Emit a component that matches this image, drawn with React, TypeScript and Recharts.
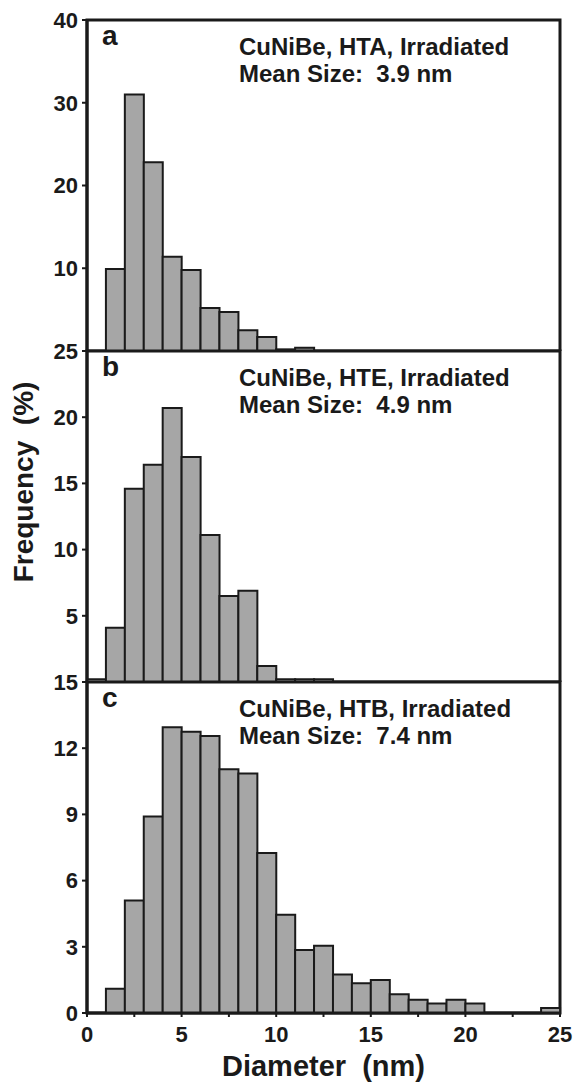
import React from "react";
import { BarChart, Bar, XAxis, YAxis, ReferenceArea } from "recharts";

const font = "'Liberation Sans', Arial, Helvetica, sans-serif";
const ink = "#1a1a1a";

// bin centres (1 nm bins from 0 to 25 nm)
const binCenters = [
  0.5, 1.5, 2.5, 3.5, 4.5, 5.5, 6.5, 7.5, 8.5, 9.5, 10.5, 11.5, 12.5,
  13.5, 14.5, 15.5, 16.5, 17.5, 18.5, 19.5, 20.5, 21.5, 22.5, 23.5, 24.5,
];

const freqHTA = [
  0, 9.9, 31.0, 22.8, 11.4, 9.8, 5.2, 4.7, 2.5, 1.7, 0.2, 0.4, 0,
  0, 0, 0, 0, 0, 0, 0, 0, 0, 0, 0, 0,
];
const freqHTE = [
  0.2, 4.1, 14.6, 16.4, 20.7, 17.0, 11.1, 6.5, 6.9, 1.2, 0.2, 0.2, 0.2,
  0, 0, 0, 0, 0, 0, 0, 0, 0, 0, 0, 0,
];
const freqHTB = [
  0, 1.1, 5.1, 8.9, 12.95, 12.75, 12.55, 11.05, 10.85, 7.25, 4.45, 2.85, 3.05,
  1.75, 1.35, 1.5, 0.85, 0.6, 0.43, 0.6, 0.43, 0, 0, 0, 0.23,
];

const ticksA = [10, 20, 30, 40];
const ticksB = [5, 10, 15, 20, 25];
const ticksC = [0, 3, 6, 9, 12, 15];
const xTicks = [0, 2.5, 5, 7.5, 10, 12.5, 15, 17.5, 20, 22.5, 25];

const titles = [
  { letter: "a", line1: "CuNiBe, HTA, Irradiated", line2: "Mean Size:  3.9 nm" },
  { letter: "b", line1: "CuNiBe, HTE, Irradiated", line2: "Mean Size:  4.9 nm" },
  { letter: "c", line1: "CuNiBe, HTB, Irradiated", line2: "Mean Size:  7.4 nm" },
];

const tickStyle = { fontSize: 22, fontWeight: "bold", fill: ink, fontFamily: font };

function Panel({ freq, yMax, yTicks, title, top, bottomAxis, yTitle }) {
  const data = binCenters.map((x, i) => ({ x, freq: freq[i] }));
  const height = bottomAxis ? 422 : 351;
  return (
    <div style={{ position: "absolute", left: 0, top, width: 573, height }}>
      <BarChart
        width={573}
        height={height}
        data={data}
        margin={{ top: 20, right: 13, left: 0, bottom: 0 }}
        barCategoryGap={0}
        barGap={0}
        style={{ fontFamily: font }}
      >
        {bottomAxis ? (
          <XAxis
            type="number"
            dataKey="x"
            domain={[0, 25]}
            ticks={xTicks}
            interval={0}
            tickFormatter={(v) => (v % 5 === 0 ? String(v) : "")}
            tick={tickStyle}
            tickSize={4}
            tickMargin={9}
            tickLine={{ stroke: ink, strokeWidth: 2 }}
            axisLine={{ stroke: ink, strokeWidth: 3 }}
            height={71}
            label={{
              content: () => (
                <text
                  x={323.5}
                  y={414}
                  textAnchor="middle"
                  style={{ whiteSpace: "pre" }}
                  fontSize={29}
                  fontWeight="bold"
                  fill={ink}
                  fontFamily={font}
                >
                  Diameter  (nm)
                </text>
              ),
            }}
          />
        ) : (
          <XAxis type="number" dataKey="x" domain={[0, 25]} hide />
        )}
        <YAxis
          type="number"
          domain={[0, yMax]}
          ticks={yTicks}
          interval={0}
          width={87}
          tick={tickStyle}
          tickSize={5}
          tickMargin={4}
          tickLine={{ stroke: ink, strokeWidth: 2 }}
          axisLine={{ stroke: ink, strokeWidth: 3 }}
          label={
            yTitle
              ? {
                  content: () => (
                    <text
                      x={33}
                      y={151}
                      transform="rotate(-90, 33, 151)"
                      textAnchor="middle"
                      style={{ whiteSpace: "pre" }}
                      fontSize={28}
                      fontWeight="bold"
                      fill={ink}
                      fontFamily={font}
                    >
                      Frequency  (%)
                    </text>
                  ),
                }
              : undefined
          }
        />
        <Bar
          dataKey="freq"
          fill="#a6a6a6"
          stroke={ink}
          strokeWidth={2}
          isAnimationActive={false}
        />
        <ReferenceArea
          x1={0}
          x2={25}
          y1={0}
          y2={yMax}
          fill="none"
          fillOpacity={0}
          stroke={ink}
          strokeWidth={3}
          ifOverflow="visible"
        />
        <text x={102} y={45} fontSize={28} fontWeight="bold" fill={ink} fontFamily={font}>
          {title.letter}
        </text>
        <text x={239} y={55} fontSize={24} fontWeight="bold" fill={ink} fontFamily={font}>
          {title.line1}
        </text>
        <text
          x={239}
          y={82}
          fontSize={24}
          fontWeight="bold"
          fill={ink}
          fontFamily={font}
          style={{ whiteSpace: "pre" }}
        >
          {title.line2}
        </text>
      </BarChart>
    </div>
  );
}

export default function App() {
  return (
    <div style={{ position: "absolute", left: 0, top: 0, width: 573, height: 1084, background: "#fff" }}>
      <Panel freq={freqHTA} yMax={40} yTicks={ticksA} title={titles[0]} top={0} />
      <Panel freq={freqHTE} yMax={25} yTicks={ticksB} title={titles[1]} top={331} yTitle />
      <Panel freq={freqHTB} yMax={15} yTicks={ticksC} title={titles[2]} top={662} bottomAxis />
    </div>
  );
}
